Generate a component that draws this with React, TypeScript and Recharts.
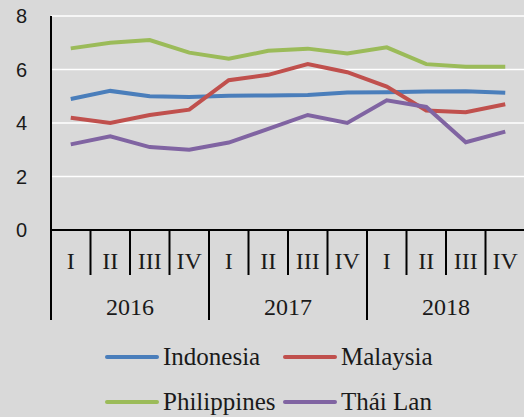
import { LineChart, Line, XAxis, YAxis, CartesianGrid, Legend } from "recharts";

const QUARTERS = ["I", "II", "III", "IV"];
const YEARS = ["2016", "2017", "2018"];
const Y_TICKS = [0, 2, 4, 6, 8];

// growth rates, one value per quarter
const indonesia = [4.9, 5.2, 5.0, 4.97, 5.02, 5.03, 5.05, 5.14, 5.15, 5.18, 5.19, 5.13];
const malaysia = [4.2, 4.0, 4.3, 4.5, 5.6, 5.8, 6.2, 5.9, 5.36, 4.47, 4.4, 4.7];
const philippines = [6.79, 7.0, 7.1, 6.63, 6.4, 6.7, 6.78, 6.6, 6.83, 6.2, 6.1, 6.1];
const thailand = [3.2, 3.5, 3.1, 3.0, 3.27, 3.78, 4.3, 4.0, 4.85, 4.6, 3.28, 3.68];

const SERIES = [
  { key: "indonesia", name: "Indonesia", color: "#4A7EBB", values: indonesia },
  { key: "malaysia", name: "Malaysia", color: "#C0504D", values: malaysia },
  { key: "philippines", name: "Philippines", color: "#9BBB59", values: philippines },
  { key: "thailand", name: "Thái Lan", color: "#8064A2", values: thailand },
];

const data = YEARS.flatMap((year, yi) =>
  QUARTERS.map((q, qi) => {
    const i = yi * 4 + qi;
    const row: Record<string, string | number> = { key: `${year}-${q}` };
    SERIES.forEach((s) => (row[s.key] = s.values[i]));
    return row;
  })
);

const CHART_W = 525;
const Y_AXIS_W = 51;
const BAND = (CHART_W - Y_AXIS_W) / data.length;
const SERIF = "'Liberation Serif', serif";
const TEXT = "#1a1a1a";

function QuarterTick(props: any) {
  const { x, y, payload, index } = props;
  const [year, quarter] = String(payload.value).split("-");
  const half = BAND / 2;
  const qi = QUARTERS.indexOf(quarter);
  return (
    <g>
      <line
        x1={x - half}
        x2={x - half}
        y1={y}
        y2={y + (qi === 0 ? 90 : 45)}
        stroke="#000"
        strokeWidth={2}
      />
      {index === data.length - 1 && (
        <line x1={x + half} x2={x + half} y1={y} y2={y + 90} stroke="#000" strokeWidth={2} />
      )}
      <text x={x} y={y + 39} textAnchor="middle" fontFamily={SERIF} fontSize={24} fill={TEXT}>
        {quarter}
      </text>
      {qi === 1 && (
        <text x={x + half} y={y + 85} textAnchor="middle" fontFamily={SERIF} fontSize={24} fill={TEXT}>
          {year}
        </text>
      )}
    </g>
  );
}

function LegendBox() {
  return (
    <div style={{ position: "relative", width: 524, height: 97 }}>
      {SERIES.map((s, i) => {
        const col = i % 2;
        const rowY = i < 2 ? 37 : 82;
        return (
          <div key={s.key}>
            <div
              style={{
                position: "absolute",
                left: col ? 283 : 105,
                top: rowY - 2,
                width: 54,
                height: 4,
                borderRadius: 2,
                background: s.color,
              }}
            />
            <div
              style={{
                position: "absolute",
                left: col ? 341 : 163,
                top: rowY - 16,
                height: 32,
                lineHeight: "32px",
                fontFamily: SERIF,
                fontSize: 25,
                color: TEXT,
                whiteSpace: "nowrap",
              }}
            >
              {s.name}
            </div>
          </div>
        );
      })}
    </div>
  );
}

export default function App() {
  return (
    <div
      style={{
        position: "fixed",
        left: 0,
        top: 0,
        width: 524,
        height: 417,
        overflow: "hidden",
        background: "#d9d9d9",
      }}
    >
      <LineChart width={CHART_W} height={417} data={data} margin={{ top: 16, right: 0, bottom: 0, left: 0 }}>
        <CartesianGrid vertical={false} stroke="#ffffff" strokeWidth={1.5} />
        <XAxis
          dataKey="key"
          interval={0}
          height={90}
          padding={{ left: BAND / 2, right: BAND / 2 }}
          axisLine={{ stroke: "#000", strokeWidth: 2 }}
          tickLine={false}
          tickSize={0}
          tickMargin={0}
          tick={<QuarterTick />}
        />
        <YAxis
          width={Y_AXIS_W}
          domain={[0, 8]}
          ticks={Y_TICKS}
          axisLine={{ stroke: "#000", strokeWidth: 2 }}
          tickLine={false}
          tickSize={0}
          tickMargin={24}
          tick={{ fontFamily: "'Liberation Sans', sans-serif", fontSize: 20, fill: TEXT }}
        />
        <Legend verticalAlign="bottom" height={97} content={() => <LegendBox />} />
        {SERIES.map((s) => (
          <Line
            key={s.key}
            type="linear"
            dataKey={s.key}
            name={s.name}
            stroke={s.color}
            strokeWidth={4}
            dot={false}
            isAnimationActive={false}
          />
        ))}
      </LineChart>
    </div>
  );
}
